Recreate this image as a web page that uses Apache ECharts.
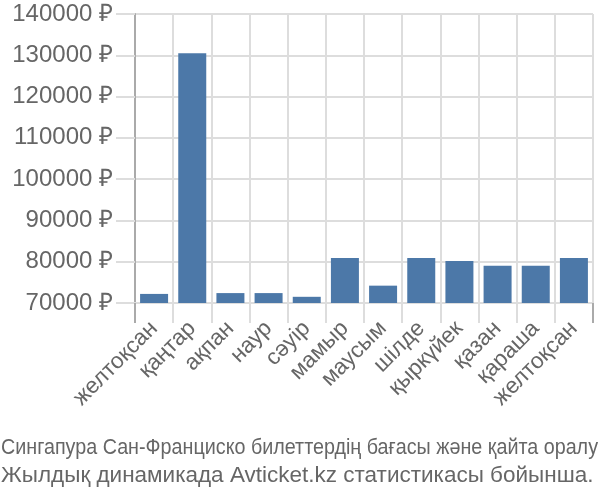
<!DOCTYPE html>
<html>
<head>
<meta charset="utf-8">
<script src="https://cdn.jsdelivr.net/npm/echarts@6/dist/echarts.min.js"></script>
<style>
html,body{margin:0;padding:0;background:#fff;}
#chart{width:600px;height:500px;}
</style>
</head>
<body>
<div id="chart"></div>
<script>
const months = ['желтоқсан','қаңтар','ақпан','наур','сәуір','мамыр','маусым','шілде','қыркүйек','қазан','қараша','желтоқсан'];
const prices = [72200, 130500, 72400, 72400, 71500, 80900, 74200, 80900, 80200, 79000, 79000, 80900];
const yTicks = [70000, 80000, 90000, 100000, 110000, 120000, 130000, 140000];
const titleLines = ['Сингапура Сан-Франциско билеттердің бағасы және қайта оралу', 'Жылдық динамикада Avticket.kz статистикасы бойынша.'];

const fontFam = '"Liberation Sans", Arial, sans-serif';
const titleSize = 22.5;
function fitScale(text, target) {
  const c = document.createElement('canvas').getContext('2d');
  c.font = titleSize + 'px ' + fontFam;
  const w = c.measureText(text).width;
  return Math.min(1, target / w);
}

const chart = echarts.init(document.getElementById('chart'), null, {renderer: 'canvas'});
const gridColor = '#dddddd';
const textColor = '#666666';
chart.setOption({
  animation: false,
  graphic: titleLines.map(function (t, i) {
    return {
      type: 'text',
      x: 1,
      y: 436 + i * 28,
      scaleX: fitScale(t, 597),
      style: {
        text: t,
        fill: textColor,
        font: titleSize + 'px ' + fontFam,
        textVerticalAlign: 'top'
      }
    };
  }),
  grid: {left: 135, right: 7, top: 14, bottom: 197, containLabel: false},
  xAxis: [{
    type: 'category',
    data: months,
    boundaryGap: true,
    axisLine: {show: true, lineStyle: {color: gridColor, width: 2}},
    axisTick: {show: true, length: 20, lineStyle: {color: gridColor, width: 2}},
    splitLine: {show: true, lineStyle: {color: gridColor, width: 2}},
    axisLabel: {
      rotate: 45,
      margin: 22,
      fontSize: 22.5,
      color: textColor,
      fontFamily: fontFam,
      interval: 0
    }
  }, {
    type: 'category',
    data: months,
    position: 'bottom',
    boundaryGap: true,
    axisLine: {show: false},
    axisTick: {show: true, length: 20, interval: function (i) { return i === 0; }, lineStyle: {color: '#aaaaaa', width: 2}},
    axisLabel: {show: false},
    splitLine: {show: false}
  }],
  yAxis: {
    type: 'value',
    min: yTicks[0],
    max: yTicks[yTicks.length - 1],
    interval: 10000,
    axisLine: {show: true, lineStyle: {color: '#aaaaaa', width: 2}},
    axisTick: {show: true, length: 19, lineStyle: {color: gridColor, width: 2}},
    splitLine: {show: true, lineStyle: {color: gridColor, width: 2}},
    axisLabel: {
      margin: 22,
      fontSize: 24,
      color: textColor,
      fontFamily: fontFam,
      formatter: function (v) { return v + ' ₽'; }
    }
  },
  series: [{
    type: 'bar',
    data: prices,
    barWidth: 28,
    xAxisIndex: 0,
    itemStyle: {color: '#4c78a8'}
  }]
});
</script>
</body>
</html>
